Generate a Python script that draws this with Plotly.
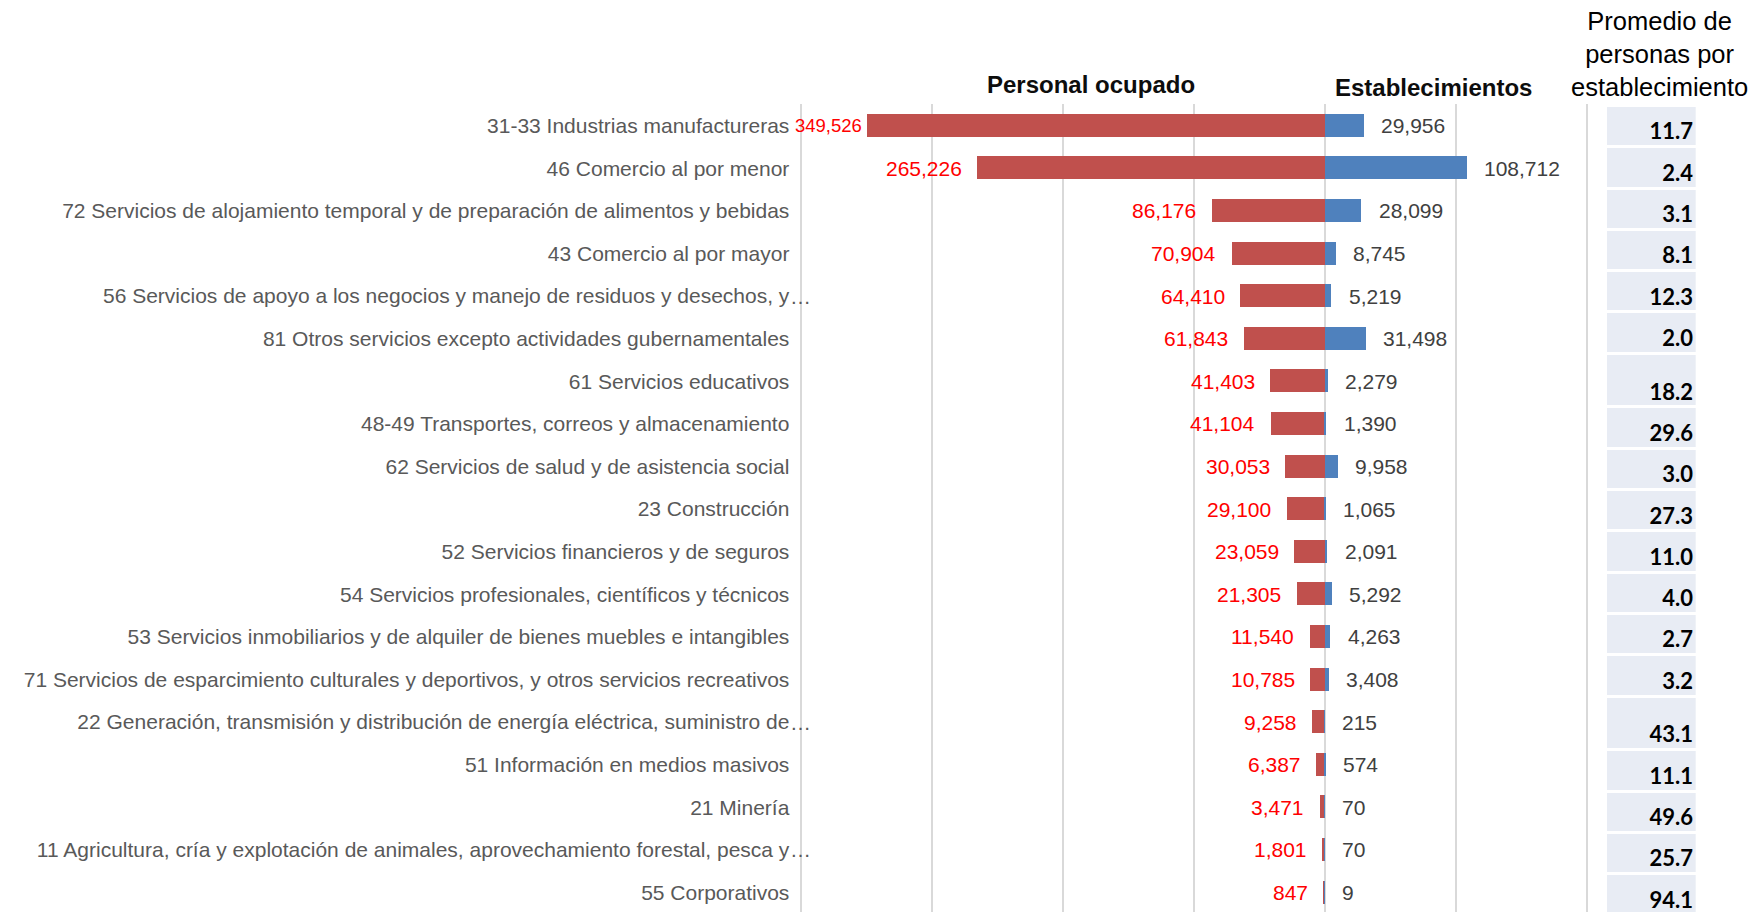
import plotly.graph_objects as go

# --- data -------------------------------------------------------------------
categorias = [
    "31-33 Industrias manufactureras",
    "46 Comercio al por menor",
    "72 Servicios de alojamiento temporal y de preparación de alimentos y bebidas",
    "43 Comercio al por mayor",
    "56 Servicios de apoyo a los negocios y manejo de residuos y desechos, y…",
    "81 Otros servicios excepto actividades gubernamentales",
    "61 Servicios educativos",
    "48-49 Transportes, correos y almacenamiento",
    "62 Servicios de salud y de asistencia social",
    "23 Construcción",
    "52 Servicios financieros y de seguros",
    "54 Servicios profesionales, científicos y técnicos",
    "53 Servicios inmobiliarios y de alquiler de bienes muebles e intangibles",
    "71 Servicios de esparcimiento culturales y deportivos, y otros servicios recreativos",
    "22 Generación, transmisión y distribución de energía eléctrica, suministro de…",
    "51 Información en medios masivos",
    "21 Minería",
    "11 Agricultura, cría y explotación de animales, aprovechamiento forestal, pesca y…",
    "55 Corporativos",
]
personal_ocupado = [349526, 265226, 86176, 70904, 64410, 61843, 41403, 41104, 30053,
                    29100, 23059, 21305, 11540, 10785, 9258, 6387, 3471, 1801, 847]
establecimientos = [29956, 108712, 28099, 8745, 5219, 31498, 2279, 1390, 9958,
                    1065, 2091, 5292, 4263, 3408, 215, 574, 70, 70, 9]
promedio = [11.7, 2.4, 3.1, 8.1, 12.3, 2.0, 18.2, 29.6, 3.0, 27.3,
            11.0, 4.0, 2.7, 3.2, 43.1, 11.1, 49.6, 25.7, 94.1]

# --- page geometry (pixels) ------------------------------------------------------
W, H = 1754, 912
RED, BLUE = "#C0504D", "#4F81BD"
GRID = "#D9D9D9"
CAT_FONT = "Liberation Sans, Arial, sans-serif"

n = len(categorias)
idx = list(range(n))


def fx(p):
    return p / W


def fy(p):
    return 1 - p / H


# x scale: -400k..200k spans 786 px; pad the range a little so the outer
# grid lines at -400k and 200k stay inside the plot area
PX_PER_UNIT = 786 / 600000
PAD = 2000
x_left_px = 801 - PAD * PX_PER_UNIT
x_right_px = 1587 + PAD * PX_PER_UNIT

# row heights of the side table (in table-row units; two rows are taller)
fila_alto = [1.0] * n
fila_alto[6] = 1.3
fila_alto[14] = 1.3
hueco = 0.073
tops, acc = [], 0.0
for h in fila_alto:
    tops.append(acc)
    acc += h
caja_centro = [t + (h - hueco) / 2 for t, h in zip(tops, fila_alto)]
caja_alto = [h - hueco for h in fila_alto]
caja_fondo = [t + h - hueco for t, h in zip(tops, fila_alto)]

fig = go.Figure()

# Personal ocupado (drawn to the left of zero)
fig.add_trace(go.Bar(
    x=[-v for v in personal_ocupado], y=idx, orientation="h",
    width=0.54, marker=dict(color=RED, line=dict(width=0)),
    hoverinfo="skip", showlegend=False,
))
# Establecimientos (to the right of zero)
fig.add_trace(go.Bar(
    x=establecimientos, y=idx, orientation="h",
    width=0.54, marker=dict(color=BLUE, line=dict(width=0)),
    hoverinfo="skip", showlegend=False,
))

# side table: shaded cells + bold averages
fig.add_trace(go.Bar(
    x=[1] * n, y=caja_centro, width=caja_alto, base=0, orientation="h",
    marker=dict(color="#E8ECF4", line=dict(width=0)),
    xaxis="x2", yaxis="y2", hoverinfo="skip", showlegend=False,
))
fig.add_trace(go.Scatter(
    x=[0.97] * n, y=caja_fondo, mode="text",
    text=[f"{v:.1f}" for v in promedio], textposition="top left",
    textfont=dict(family="Lato, Calibri, sans-serif", size=22, color="#000000",
                  weight="bold"),
    xaxis="x2", yaxis="y2", hoverinfo="skip", showlegend=False,
))

annotations = []

# value labels
for i, (p, e) in enumerate(zip(personal_ocupado, establecimientos)):
    large = p > 300000
    annotations.append(dict(
        x=-p, y=i, xref="x", yref="y", text=f"{p:,}",
        xanchor="right", yanchor="middle", showarrow=False,
        xshift=-3 if large else -14,
        font=dict(family=CAT_FONT, size=18.5 if large else 21, color="#FF0000"),
    ))
    annotations.append(dict(
        x=e, y=i, xref="x", yref="y", text=f"{e:,}",
        xanchor="left", yanchor="middle", showarrow=False, xshift=15,
        font=dict(family=CAT_FONT, size=21, color="#404040"),
    ))

# category tick text; a trailing ellipsis hangs past the label edge
tick_text = []
for i, c in enumerate(categorias):
    if c.endswith("…"):
        tick_text.append(c[:-1])
        annotations.append(dict(
            x=fx(788), y=i, xref="paper", yref="y", text="…",
            xanchor="left", yanchor="middle", showarrow=False,
            font=dict(family=CAT_FONT, size=21, color="#595959"),
        ))
    else:
        tick_text.append(c)

# headers
annotations += [
    dict(x=fx(1091), y=fy(85), xref="paper", yref="paper", text="<b>Personal ocupado</b>",
         showarrow=False, xanchor="center", yanchor="middle",
         font=dict(family=CAT_FONT, size=24, color="#0D0D0D")),
    dict(x=fx(1433), y=fy(88), xref="paper", yref="paper", text="<b>Establecimientos</b>",
         showarrow=False, xanchor="center", yanchor="middle",
         font=dict(family=CAT_FONT, size=24, color="#0D0D0D")),
    dict(x=fx(1659), y=fy(54), xref="paper", yref="paper",
         text="Promedio de<br>personas por<br>establecimiento",
         showarrow=False, xanchor="center", yanchor="middle",
         font=dict(family=CAT_FONT, size=25.5, color="#000000")),
]

fig.update_layout(
    width=W, height=H,
    margin=dict(l=0, r=0, t=0, b=0),
    paper_bgcolor="white", plot_bgcolor="white",
    barmode="overlay",
    bargap=0,
    xaxis=dict(
        domain=[fx(x_left_px), fx(x_right_px)], range=[-400000 - PAD, 200000 + PAD],
        dtick=100000, tick0=0, showticklabels=False, ticks="",
        showgrid=True, gridcolor=GRID, gridwidth=1.5,
        zeroline=True, zerolinecolor=GRID, zerolinewidth=1.5,
        showline=False, fixedrange=True,
    ),
    yaxis=dict(
        domain=[0, fy(104.4)], range=[18.46, -0.5],
        tickmode="array", tickvals=idx, ticktext=tick_text,
        ticks="", ticklabelstandoff=8,
        tickfont=dict(family=CAT_FONT, size=21, color="#595959"),
        showgrid=False, zeroline=False, showline=False, fixedrange=True,
    ),
    xaxis2=dict(domain=[fx(1606.7), fx(1695.7)], range=[0, 1], anchor="y2",
                visible=False, fixedrange=True),
    yaxis2=dict(domain=[0, fy(106.7)], range=[19.5, 0], anchor="x2",
                visible=False, fixedrange=True),
    annotations=annotations,
)

fig.write_html("out.html")
